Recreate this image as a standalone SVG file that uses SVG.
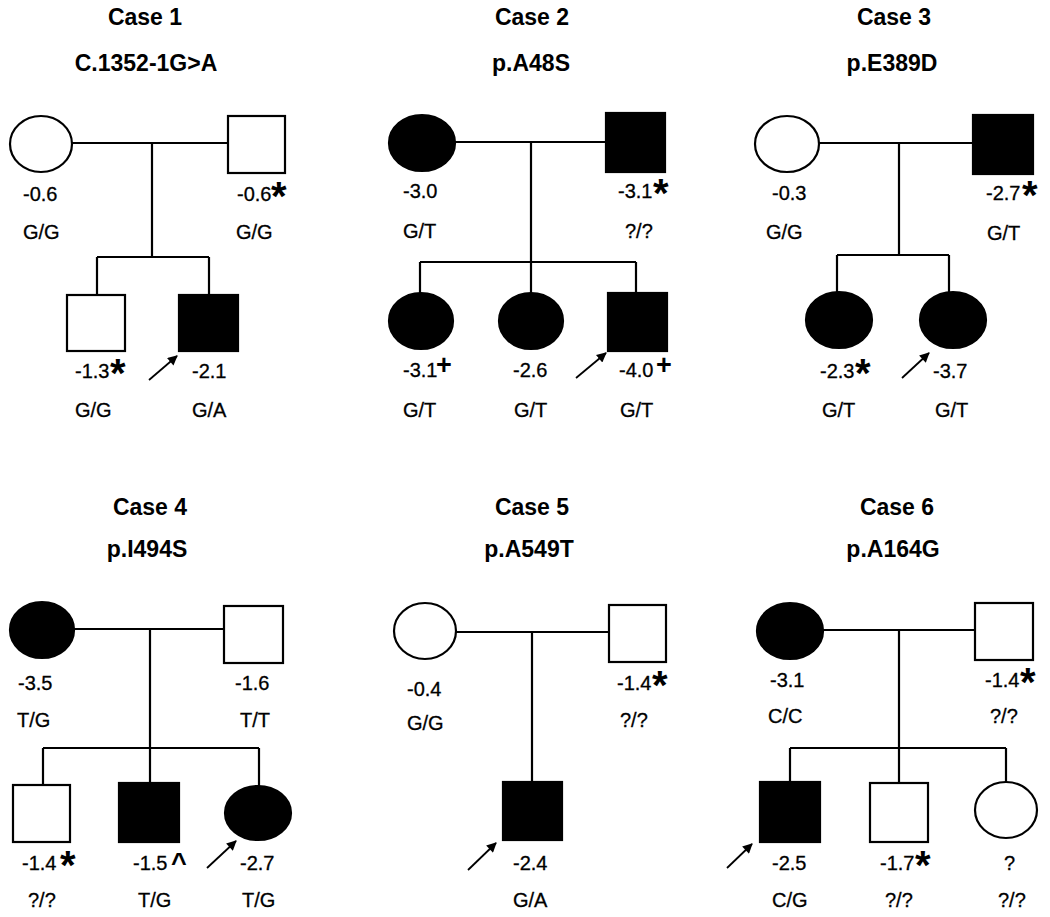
<svg xmlns="http://www.w3.org/2000/svg" width="1050" height="917" viewBox="0 0 1050 917">
<defs>
<style>
.title{font-family:"Liberation Sans",Arial,sans-serif;font-weight:bold;font-size:23px;text-anchor:middle;fill:#000}
.lbl{font-family:"Liberation Sans",Arial,sans-serif;font-size:20px;fill:#000;stroke:#000;stroke-width:0.3}
.ast{font-family:"Liberation Sans",Arial,sans-serif;font-weight:bold;font-size:40px;fill:#000}
.pls{font-family:"Liberation Sans",Arial,sans-serif;font-weight:bold;font-size:27px;fill:#000}
.open{fill:#fff;stroke:#000;stroke-width:2.2}
.aff{fill:#000;stroke:#000;stroke-width:2.2}
.ln{fill:none;stroke:#000;stroke-width:2.2}
.arr{fill:none;stroke:#000;stroke-width:1.8;marker-end:url(#ah)}
</style>
<marker id="ah" viewBox="0 0 10 10" refX="9" refY="5" markerWidth="6" markerHeight="5.5" orient="auto" markerUnits="strokeWidth">
<path d="M0,0 L10,5 L0,10 Z" fill="#000"/>
</marker>
</defs>
<rect width="1050" height="917" fill="#fff"/>

<!-- Connectors -->
<g id="connectors">
<path class="ln" d="M72 143 H228 M152 143 V257 M97 257 H209 M97 257 V295 M209 257 V295"/>
<path class="ln" d="M455 142 H606 M531 142 V262 M420 262 H636 M420 262 V293 M531 262 V293 M636 262 V293"/>
<path class="ln" d="M819 143 H973 M899 143 V255 M837 255 H949 M837 255 V292 M949 255 V292"/>
<path class="ln" d="M74 629 H224 M150 629 V748 M43 748 H259 M43 748 V785 M150 748 V783 M259 748 V787"/>
<path class="ln" d="M456 632 H609 M532 632 V782"/>
<path class="ln" d="M823 630 H975 M899 630 V748 M790 748 H1006 M790 748 V782 M899 748 V783 M1006 748 V782"/>
<path class="arr" d="M149 380 L177 356"/>
<path class="arr" d="M576 378 L606 353"/>
<path class="arr" d="M902 378 L929 353"/>
<path class="arr" d="M207 868 L236 841"/>
<path class="arr" d="M468 870 L496 843"/>
<path class="arr" d="M727 868 L752 844"/>
</g>

<!-- Case 1 -->
<g id="case1">
<text class="title" x="145" y="25">Case 1</text>
<text class="title" x="146" y="71">C.1352-1G&gt;A</text>
<g id="c1-mother"><ellipse class="open" cx="41" cy="144" rx="31" ry="28"/><text class="lbl" x="23" y="201">-0.6</text><text class="lbl" x="23" y="239">G/G</text></g>
<g id="c1-father"><rect class="open" x="228" y="116" width="57" height="57"/><text class="lbl" x="237" y="201">-0.6</text><text class="ast" x="271" y="210">*</text><text class="lbl" x="236" y="239">G/G</text></g>
<g id="c1-son1"><rect class="open" x="67" y="295" width="58" height="56"/><text class="lbl" x="75" y="378">-1.3</text><text class="ast" x="110" y="387">*</text><text class="lbl" x="75" y="417">G/G</text></g>
<g id="c1-proband"><rect class="aff" x="179" y="295" width="59" height="56"/><text class="lbl" x="192" y="378">-2.1</text><text class="lbl" x="192" y="417">G/A</text></g>
</g>

<!-- Case 2 -->
<g id="case2">
<text class="title" x="532" y="25">Case 2</text>
<text class="title" x="531" y="71">p.A48S</text>
<g id="c2-mother"><ellipse class="aff" cx="422" cy="143" rx="33" ry="28"/><text class="lbl" x="403" y="198">-3.0</text><text class="lbl" x="403" y="238">G/T</text></g>
<g id="c2-father"><rect class="aff" x="606" y="113" width="59" height="59"/><text class="lbl" x="618" y="198">-3.1</text><text class="ast" x="653" y="207">*</text><text class="lbl" x="625" y="238">?/?</text></g>
<g id="c2-dau1"><ellipse class="aff" cx="421" cy="321" rx="32" ry="28"/><text class="lbl" x="403" y="377">-3.1</text><text class="pls" x="436" y="374">+</text><text class="lbl" x="403" y="417">G/T</text></g>
<g id="c2-dau2"><ellipse class="aff" cx="531" cy="321" rx="32" ry="28"/><text class="lbl" x="513" y="377">-2.6</text><text class="lbl" x="514" y="417">G/T</text></g>
<g id="c2-proband"><rect class="aff" x="608" y="293" width="59" height="58"/><text class="lbl" x="619" y="377">-4.0</text><text class="pls" x="656" y="374">+</text><text class="lbl" x="620" y="417">G/T</text></g>
</g>

<!-- Case 3 -->
<g id="case3">
<text class="title" x="894" y="25">Case 3</text>
<text class="title" x="892" y="71">p.E389D</text>
<g id="c3-mother"><ellipse class="open" cx="787" cy="144" rx="32" ry="28"/><text class="lbl" x="772" y="200">-0.3</text><text class="lbl" x="766" y="239">G/G</text></g>
<g id="c3-father"><rect class="aff" x="973" y="115" width="60" height="59"/><text class="lbl" x="986" y="200">-2.7</text><text class="ast" x="1022" y="209">*</text><text class="lbl" x="987" y="240">G/T</text></g>
<g id="c3-dau1"><ellipse class="aff" cx="839" cy="320" rx="33" ry="28"/><text class="lbl" x="820" y="378">-2.3</text><text class="ast" x="855" y="387">*</text><text class="lbl" x="822" y="417">G/T</text></g>
<g id="c3-proband"><ellipse class="aff" cx="953" cy="320" rx="33" ry="28"/><text class="lbl" x="933" y="378">-3.7</text><text class="lbl" x="935" y="417">G/T</text></g>
</g>

<!-- Case 4 -->
<g id="case4">
<text class="title" x="150" y="515">Case 4</text>
<text class="title" x="147" y="557">p.I494S</text>
<g id="c4-mother"><ellipse class="aff" cx="42" cy="630" rx="32" ry="28"/><text class="lbl" x="18" y="690">-3.5</text><text class="lbl" x="17" y="727">T/G</text></g>
<g id="c4-father"><rect class="open" x="224" y="606" width="59" height="57"/><text class="lbl" x="235" y="690">-1.6</text><text class="lbl" x="240" y="727">T/T</text></g>
<g id="c4-son1"><rect class="open" x="13" y="785" width="57" height="57"/><text class="lbl" x="22" y="870">-1.4</text><text class="ast" x="60" y="879">*</text><text class="lbl" x="28" y="907">?/?</text></g>
<g id="c4-son2"><rect class="aff" x="119" y="783" width="60" height="59"/><text class="lbl" x="133" y="870">-1.5</text><text class="pls" x="171" y="872">^</text><text class="lbl" x="138" y="907">T/G</text></g>
<g id="c4-proband"><ellipse class="aff" cx="258" cy="813" rx="33" ry="27"/><text class="lbl" x="240" y="870">-2.7</text><text class="lbl" x="242" y="907">T/G</text></g>
</g>

<!-- Case 5 -->
<g id="case5">
<text class="title" x="532" y="515">Case 5</text>
<text class="title" x="529" y="557">p.A549T</text>
<g id="c5-mother"><ellipse class="open" cx="425" cy="631" rx="31" ry="28"/><text class="lbl" x="407" y="696">-0.4</text><text class="lbl" x="407" y="730">G/G</text></g>
<g id="c5-father"><rect class="open" x="609" y="605" width="57" height="57"/><text class="lbl" x="617" y="690">-1.4</text><text class="ast" x="652" y="699">*</text><text class="lbl" x="620" y="727">?/?</text></g>
<g id="c5-proband"><rect class="aff" x="503" y="782" width="59" height="58"/><text class="lbl" x="513" y="870">-2.4</text><text class="lbl" x="513" y="907">G/A</text></g>
</g>

<!-- Case 6 -->
<g id="case6">
<text class="title" x="897" y="515">Case 6</text>
<text class="title" x="893" y="557">p.A164G</text>
<g id="c6-mother"><ellipse class="aff" cx="790" cy="631" rx="33" ry="28"/><text class="lbl" x="770" y="687">-3.1</text><text class="lbl" x="768" y="723">C/C</text></g>
<g id="c6-father"><rect class="open" x="975" y="603" width="58" height="57"/><text class="lbl" x="985" y="687">-1.4</text><text class="ast" x="1020" y="696">*</text><text class="lbl" x="990" y="723">?/?</text></g>
<g id="c6-proband"><rect class="aff" x="760" y="782" width="60" height="60"/><text class="lbl" x="772" y="870">-2.5</text><text class="lbl" x="772" y="907">C/G</text></g>
<g id="c6-son2"><rect class="open" x="870" y="783" width="58" height="59"/><text class="lbl" x="880" y="870">-1.7</text><text class="ast" x="915" y="879">*</text><text class="lbl" x="885" y="907">?/?</text></g>
<g id="c6-dau"><ellipse class="open" cx="1006" cy="810" rx="31" ry="28"/><text class="lbl" x="1004" y="870">?</text><text class="lbl" x="998" y="907">?/?</text></g>
</g>
</svg>
